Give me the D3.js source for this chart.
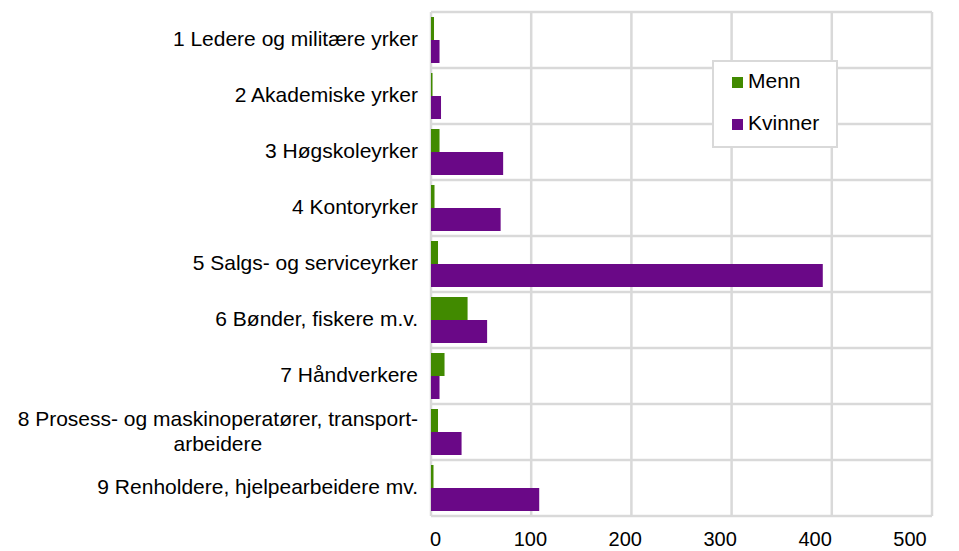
<!DOCTYPE html>
<html>
    <head>
        <title>Yrker | D3</title>
        <script src="https://d3js.org/d3.v7.min.js" charset="utf-8"></script>
        <style>
            body {
                margin: 0;
                background: white;
                font-family: "Liberation Sans", Arial, sans-serif;
            }
            text {
                fill: #000;
            }
        </style>
    </head>
    <body>
        <script>
            // data
            var categories = [
                "1 Ledere og militære yrker",
                "2 Akademiske yrker",
                "3 Høgskoleyrker",
                "4 Kontoryrker",
                "5 Salgs- og serviceyrker",
                "6 Bønder, fiskere m.v.",
                "7 Håndverkere",
                "8 Prosess- og maskinoperatører, transport-|arbeidere",
                "9 Renholdere, hjelpearbeidere mv."
            ];
            var seriesNames = ["Menn", "Kvinner"];
            var menn = [3, 1.5, 8.5, 3.5, 7, 36.5, 13.5, 7, 2.5];
            var kvinner = [8.5, 10, 72, 69.5, 391, 56, 8.5, 30.5, 108];
            var tickValues = [0, 100, 200, 300, 400, 500];

            var colors = {"Menn": "#418a00", "Kvinner": "#6a0887"};
            var gridColor = "#d9d9d9";

            var width = 959;
            var height = 551;

            var svg = d3.select("body")
                .append("svg")
                .attr("width", width)
                .attr("height", height);

            var x = d3.scaleLinear().domain([0, 500]).range([431, 932]);
            // tick labels in the picture sit on a slightly tighter spacing
            var xLabel = d3.scaleLinear().domain([0, 500]).range([435.5, 910]);
            var y = d3.scaleBand().domain(categories).range([12, 516]);
            var ySub = d3.scaleBand().domain(seriesNames).range([5, y.bandwidth() - 5]);

            // grid
            var grid = svg.append("g")
                .attr("stroke", gridColor)
                .attr("stroke-width", 2.5);

            grid.selectAll("line.v")
                .data(tickValues)
                .enter()
                .append("line")
                .attr("x1", d => x(d))
                .attr("x2", d => x(d))
                .attr("y1", y.range()[0])
                .attr("y2", y.range()[1]);

            var bounds = categories.map(c => y(c)).concat([y.range()[1]]);
            grid.selectAll("line.h")
                .data(bounds)
                .enter()
                .append("line")
                .attr("x1", x(0))
                .attr("x2", x(500))
                .attr("y1", d => d)
                .attr("y2", d => d);

            // bars
            var rows = categories.map(function(c, i) {
                return {cat: c, values: [{key: "Menn", v: menn[i]}, {key: "Kvinner", v: kvinner[i]}]};
            });

            var groups = svg.append("g")
                .selectAll("g")
                .data(rows)
                .enter()
                .append("g")
                .attr("transform", d => "translate(0," + y(d.cat) + ")");

            groups.selectAll("rect")
                .data(d => d.values)
                .enter()
                .append("rect")
                .attr("x", x(0))
                .attr("y", d => ySub(d.key))
                .attr("width", d => x(d.v) - x(0))
                .attr("height", ySub.bandwidth())
                .attr("fill", d => colors[d.key]);

            // category labels
            var labels = svg.append("g")
                .attr("font-size", "21px");

            categories.forEach(function(c) {
                var lines = c.split("|");
                var cy = y(c) + y.bandwidth() / 2;
                if (lines.length == 1) {
                    labels.append("text")
                        .attr("x", 418)
                        .attr("y", cy)
                        .attr("dy", "0.3em")
                        .attr("text-anchor", "end")
                        .text(lines[0]);
                } else {
                    var first = labels.append("text")
                        .attr("x", 418)
                        .attr("y", cy - 12.5)
                        .attr("dy", "0.3em")
                        .attr("text-anchor", "end")
                        .text(lines[0]);
                    var w = first.node().getComputedTextLength();
                    labels.append("text")
                        .attr("x", 418 - w / 2)
                        .attr("y", cy + 12.5)
                        .attr("dy", "0.3em")
                        .attr("text-anchor", "middle")
                        .text(lines[1]);
                }
            });

            // x tick labels
            svg.append("g")
                .attr("font-size", "20px")
                .selectAll("text")
                .data(tickValues)
                .enter()
                .append("text")
                .attr("x", d => xLabel(d))
                .attr("y", 546)
                .attr("text-anchor", "middle")
                .text(d => d);

            // legend
            var legend = svg.append("g");
            legend.append("rect")
                .attr("x", 713)
                .attr("y", 61)
                .attr("width", 124)
                .attr("height", 86)
                .attr("fill", "white")
                .attr("stroke", gridColor)
                .attr("stroke-width", 2);

            var items = legend.selectAll("g")
                .data(seriesNames)
                .enter()
                .append("g")
                .attr("transform", (d, i) => "translate(732," + (77 + i * 42) + ")");

            items.append("rect")
                .attr("width", 11)
                .attr("height", 11)
                .attr("fill", d => colors[d]);

            items.append("text")
                .attr("x", 16)
                .attr("y", 11)
                .attr("font-size", "21px")
                .text(d => d);
        </script>
    </body>
</html>
